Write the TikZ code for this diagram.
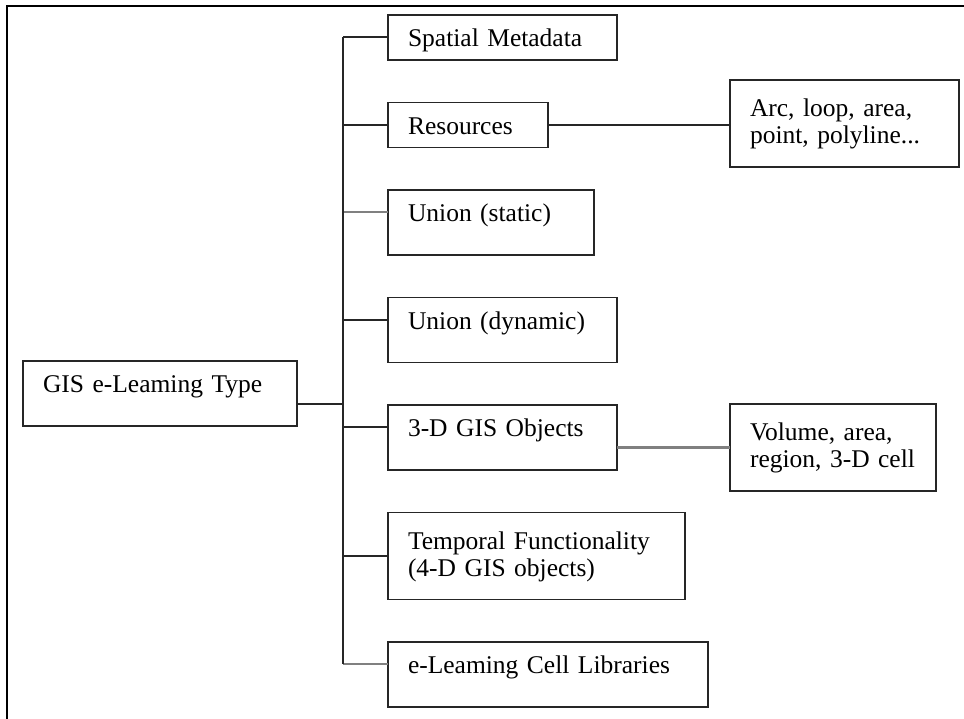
\documentclass[tikz,border=0pt]{standalone}
\usepackage{fontspec}
\setmainfont{Liberation Serif}
\usetikzlibrary{positioning,calc}
\tikzstyle{connector} = [line width=2pt, draw=black!85]
\tikzstyle{faint} = [connector, line width=2.6pt, draw=black!50]
\tikzstyle{box} = [draw=black!85, line width=1.9pt, outer sep=0pt, anchor=north west, align=left, inner xsep=20pt, inner ysep=11.5pt, text height=20pt, text depth=2pt, font=\fontsize{25.5}{27}\selectfont]
\tikzstyle{tall} = [box, text depth=22pt]
\tikzstyle{twoline} = [box, text height=25pt, text depth=39pt]

\begin{document}
\begin{tikzpicture}[x=1pt, y=1pt]
                \useasboundingbox (0,0) rectangle (964,-718);
                \clip (0,0) rectangle (964,-718);
                \draw [line width=1.5pt] (7,-6) rectangle (990,-740);

                \node (gis) [tall, text width=234pt] at (23,-361) {GIS e-Leaming Type};
                \node (spatial) [box, text width=189pt] at (388,-15) {Spatial Metadata};
                \node (resources) [box, text width=120pt, below=42.5pt of spatial.south west, anchor=north west] {Resources};
                \node (ustatic) [tall, text width=166pt, below=42.5pt of resources.south west, anchor=north west] {Union (static)};
                \node (udynamic) [tall, text width=189pt, below=42.5pt of ustatic.south west, anchor=north west] {Union (dynamic)};
                \node (objects) [tall, text width=189pt, below=42.5pt of udynamic.south west, anchor=north west] {3-D GIS Objects};
                \node (temporal) [twoline, text width=257pt, below=42.5pt of objects.south west, anchor=north west] {Temporal Functionality\\(4-D GIS objects)};
                \node (cells) [tall, text width=280pt, below=42.5pt of temporal.south west, anchor=north west] {e-Leaming Cell Libraries};
                \node (arc) [twoline, text width=189pt] at (730,-80) {Arc, loop, area,\\point, polyline...};
                \node (volume) [twoline, text width=166pt] at (730,-404) {Volume, area,\\region, 3-D cell};

                \coordinate (ttop) at ($(spatial.north west)+(-45,-22)$);
                \coordinate (tbot) at ($(cells.north west)+(-45,-22)$);
                \coordinate (hub) at ($(gis.north east)+(0,-43)$);

                \draw [faint] ($(ustatic.north west)+(0,-22)$) -- (ttop |- {$(ustatic.north west)+(0,-22)$});
                \draw [faint] ($(cells.north west)+(0,-22)$) -- (tbot);
                \draw [connector] (ttop) -- (tbot);
                \draw [connector] (hub) -- (hub -| ttop);
                \foreach \n in {spatial, resources, udynamic, objects}
                    \draw [connector] ($(\n.north west)+(0,-22)$) -- (ttop |- {$(\n.north west)+(0,-22)$});
                \draw [connector] (temporal.west) -- (temporal.west -| ttop);
                \draw [connector] (resources.east) -- (arc.west |- resources.east);
                \draw [faint] (volume.west) -- (volume.west -| objects.east);
            \end{tikzpicture}
\end{document}
